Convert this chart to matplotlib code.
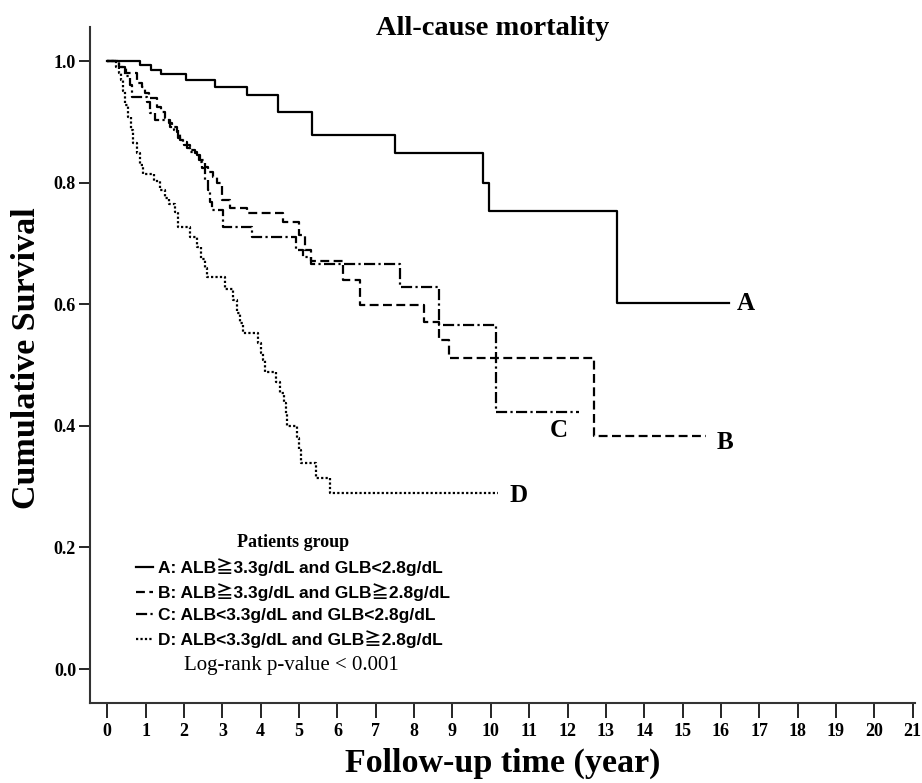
"""Kaplan-Meier style survival curves: all-cause mortality by patient group."""

import matplotlib

matplotlib.use("Agg")
import matplotlib.pyplot as plt
from matplotlib.lines import Line2D

# step times (years) and survival after each step, per group
a_times = [0, 0.85, 1.15, 1.4, 2.05, 2.8, 3.65, 4.45, 5.35, 7.5, 9.8, 9.95, 13.3]
a_surv = [1.0, 0.993, 0.985, 0.979, 0.969, 0.957, 0.944, 0.916, 0.878, 0.849, 0.80, 0.753, 0.602]
a_end = 16.2

b_times = [0, 0.3, 0.5, 0.77, 0.9, 0.99, 1.1, 1.29, 1.4, 1.5, 1.6, 1.68, 1.82, 1.9, 2.0,
           2.16, 2.28, 2.4, 2.55, 2.62, 2.75, 2.85, 3.0, 3.2, 3.64, 4.57, 5.0, 5.15, 5.3,
           6.15, 6.6, 8.26, 8.65, 8.9, 12.7]
b_surv = [1.0, 0.99, 0.98, 0.964, 0.957, 0.947, 0.939, 0.924, 0.916, 0.906, 0.898, 0.891,
          0.883, 0.870, 0.862, 0.854, 0.849, 0.837, 0.826, 0.817, 0.809, 0.80, 0.771, 0.758,
          0.75, 0.735, 0.714, 0.689, 0.671, 0.64, 0.599, 0.571, 0.541, 0.512, 0.383]
b_end = 15.6

c_times = [0, 0.3, 0.45, 0.6, 0.65, 1.03, 1.12, 1.25, 1.64, 1.75, 1.85, 1.97, 2.07, 2.15,
           2.33, 2.42, 2.47, 2.55, 2.62, 2.68, 2.72, 3.03, 3.77, 4.93, 5.1, 5.3, 7.64, 8.65,
           10.13]
c_surv = [1.0, 0.99, 0.975, 0.961, 0.941, 0.933, 0.914, 0.903, 0.891, 0.886, 0.873, 0.867,
          0.857, 0.85, 0.845, 0.834, 0.824, 0.804, 0.788, 0.768, 0.755, 0.727, 0.71, 0.69,
          0.678, 0.666, 0.628, 0.566, 0.423]
c_end = 12.3

d_times = [0, 0.22, 0.3, 0.36, 0.42, 0.47, 0.55, 0.62, 0.68, 0.77, 0.85, 0.94, 1.22, 1.38,
           1.5, 1.62, 1.77, 1.84, 2.16, 2.33, 2.45, 2.55, 2.6, 3.06, 3.27, 3.37, 3.45, 3.54,
           3.92, 4.0, 4.05, 4.1, 4.4, 4.5, 4.62, 4.66, 4.68, 4.96, 5.0, 5.04, 5.45, 5.8]
d_surv = [1.0, 0.99, 0.98, 0.969, 0.95, 0.928, 0.908, 0.886, 0.865, 0.849, 0.829, 0.814,
          0.802, 0.788, 0.775, 0.765, 0.752, 0.727, 0.71, 0.694, 0.675, 0.66, 0.645, 0.625,
          0.607, 0.585, 0.569, 0.553, 0.536, 0.52, 0.508, 0.489, 0.472, 0.454, 0.437, 0.42,
          0.40, 0.38, 0.36, 0.339, 0.314, 0.289]
d_end = 10.2

group_names = ["A", "B", "C", "D"]
legend_labels = [
    "A: ALB\u22673.3g/dL and GLB<2.8g/dL",
    "B: ALB\u22673.3g/dL and GLB\u22672.8g/dL",
    "C: ALB<3.3g/dL and GLB<2.8g/dL",
    "D: ALB<3.3g/dL and GLB\u22672.8g/dL",
]
x_ticks = list(range(0, 22))
y_ticks = [0.0, 0.2, 0.4, 0.6, 0.8, 1.0]

SERIF = ["Liberation Serif", "DejaVu Serif"]
SANS = ["Liberation Sans", "Noto Sans CJK SC", "DejaVu Sans"]

styles = [
    dict(linestyle="-"),
    dict(linestyle=(0, (4, 2))),
    dict(linestyle=(0, (5, 1.5, 1, 1.5))),
    dict(linestyle=(0, (1, 1))),
]

fig = plt.figure(figsize=(9.22, 7.83), dpi=100)
ax = fig.add_axes([0.0976, 0.102, 0.8944, 0.8635])

curves = [
    (a_times, a_surv, a_end),
    (b_times, b_surv, b_end),
    (c_times, c_surv, c_end),
    (d_times, d_surv, d_end),
]
for (t, s, end), st in zip(curves, styles):
    ax.step(t + [end], s + [s[-1]], where="post", color="black", lw=1.6, **st)

# group letters next to curve ends
label_offsets = [(0.2, 0.0), (0.3, -0.01), (-0.75, -0.03), (0.3, -0.003)]
for name, (t, s, end), (dx, dy) in zip(group_names, curves, label_offsets):
    ax.text(end + dx, s[-1] + dy, name, family=SERIF, fontweight="bold",
            fontsize=18, va="center", ha="left")

ax.set_xlim(-0.45, 21.05)
ax.set_ylim(-0.056, 1.056)
ax.set_xticks(x_ticks)
ax.set_yticks(y_ticks)
ax.set_yticklabels([f"{v:.1f}" for v in y_ticks])
for lab in ax.get_xticklabels() + ax.get_yticklabels():
    lab.set_family(SERIF)
    lab.set_fontweight("bold")
    lab.set_fontsize(13)
ax.tick_params(axis="y", length=8, width=1.2, pad=2)
ax.tick_params(axis="x", length=11, width=1.2, pad=3)

for side in ("top", "right"):
    ax.spines[side].set_visible(False)
for side in ("left", "bottom"):
    ax.spines[side].set_linewidth(1.5)
    ax.spines[side].set_color("#333333")

fig.text(0.534, 0.964, "All-cause mortality", family=SERIF, fontweight="bold",
         fontsize=20.5, ha="center", va="center")
ax.set_xlabel("Follow-up time (year)", family=SERIF, fontweight="bold",
              fontsize=24.5, labelpad=6)
ax.set_ylabel("Cumulative Survival", family=SERIF, fontweight="bold",
              fontsize=24.5)
ax.yaxis.set_label_coords(-0.058, 0.51)

handles = [Line2D([], [], color="black", lw=1.6, **st) for st in styles]
leg = ax.legend(handles, legend_labels, title="Patients group", frameon=False,
                loc="center", bbox_to_anchor=(0.246, 0.166), handlelength=1.0,
                handletextpad=0.25, labelspacing=0.4, borderpad=0.2,
                prop=dict(family=SANS, weight="bold", size=12.5))
leg.get_title().set_family(SERIF)
leg.get_title().set_fontweight("bold")
leg.get_title().set_fontsize(13)

ax.text(0.244, 0.055, "Log-rank p-value < 0.001", transform=ax.transAxes,
        family=SERIF, fontsize=15, ha="center", va="center")

fig.savefig("out.png", dpi=100)
plt.close(fig)
